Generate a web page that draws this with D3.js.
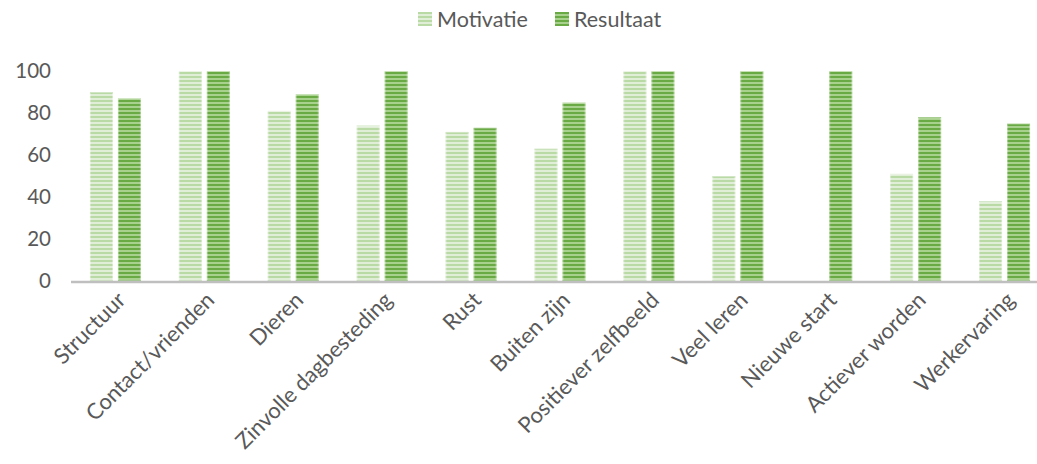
<!DOCTYPE html>
<html><head><meta charset="utf-8">
<script src="https://cdn.jsdelivr.net/npm/d3@7"></script>
<style>body{margin:0;background:#fff}svg{display:block}text{font-family:Lato,"Open Sans",sans-serif;fill:#595959}</style>
</head><body>
<svg id="c" width="1037" height="464"></svg>
<script>
const categories = ["Structuur","Contact/vrienden","Dieren","Zinvolle dagbesteding","Rust","Buiten zijn","Positiever zelfbeeld","Veel leren","Nieuwe start","Actiever worden","Werkervaring"];
const seriesNames = ["Motivatie","Resultaat"];
const motivatie = [90,100,81,74,71,63,100,50,0,51,38];
const resultaat = [87,100,89,100,73,85,100,100,100,78,75];
const yTicks = [0,20,40,60,80,100];

const svg = d3.select("#c");
const W = 1037, H = 464;
const mLeft = 71, mRight = 1049, mTop = 71, mBottom = 281;

const defs = svg.append("defs");
const pats = [
  {id:"p0", base:"#b9d9a5", stripe:"#e0eed7"},
  {id:"p1", base:"#6aaa45", stripe:"#a9d18e"}
];
pats.forEach(p=>{
  const pt = defs.append("pattern").attr("id",p.id).attr("patternUnits","userSpaceOnUse")
    .attr("width",4).attr("height",4);
  pt.append("rect").attr("width",4).attr("height",4).attr("fill",p.base);
  pt.append("rect").attr("y",2).attr("width",4).attr("height",2).attr("fill",p.stripe);
});

const x0 = d3.scaleBand().domain(categories).range([mLeft,mRight]).paddingInner(0).paddingOuter(0);
const y = d3.scaleLinear().domain([0,100]).range([mBottom,mTop]);
const barW = 23, gap = 5;

const data = categories.map((c,i)=>({c, v:[motivatie[i], resultaat[i]]}));
const g = svg.append("g");
data.forEach(d=>{
  const cx = x0(d.c) + x0.bandwidth()/2;
  d.v.forEach((v,j)=>{
    if(v<=0) return;
    const bx = j===0 ? cx - gap/2 - barW : cx + gap/2;
    g.append("rect").attr("x",bx).attr("y",y(v)).attr("width",barW).attr("height",y(0)-y(v))
      .attr("fill",`url(#p${j})`);
    g.append("rect").attr("x",bx+0.5).attr("y",y(v)+0.5).attr("width",barW-1).attr("height",y(0)-y(v)-1)
      .attr("fill","none").attr("stroke","rgba(255,255,255,0.35)").attr("stroke-width",1);
  });
});

// axis line
svg.append("line").attr("x1",mLeft).attr("x2",W).attr("y1",y(0)+1).attr("y2",y(0)+1)
  .attr("stroke","#bfbfbf").attr("stroke-width",2.5);

// y tick labels
svg.selectAll(".yt").data(yTicks).enter().append("text")
  .attr("x",51).attr("y",d=>y(d)).attr("dy","0.35em").attr("text-anchor","end")
  .style("font-size","20.5px").text(d=>d);

// x labels
svg.selectAll(".xl").data(categories).enter().append("text")
  .attr("text-anchor","end")
  .attr("transform",d=>{const cx=x0(d)+x0.bandwidth()/2+6; return `translate(${cx},${mBottom+15}) rotate(-45)`;})
  .attr("dy","0.35em")
  .style("font-size","22px").text(d=>d);

// legend
const leg = [{x:418,n:seriesNames[0]},{x:555,n:seriesNames[1]}];
leg.forEach((l,j)=>{
  svg.append("rect").attr("x",l.x).attr("y",12).attr("width",14).attr("height",14).attr("fill",`url(#p${j})`);
  svg.append("text").attr("x",l.x+19).attr("y",19).attr("dy","0.35em").style("font-size","21.5px").text(l.n);
});
</script>
</body></html>
